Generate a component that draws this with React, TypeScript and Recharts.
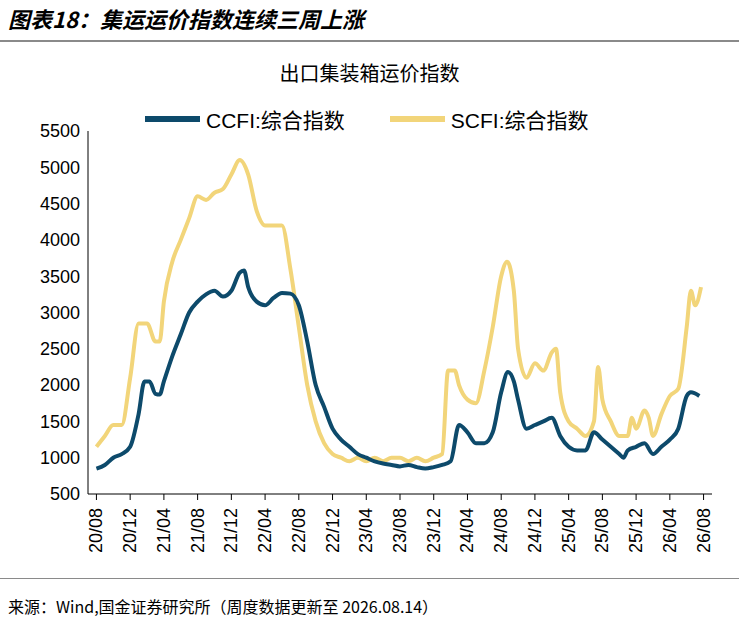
import React from "react";
import { LineChart, Line, XAxis, YAxis } from "recharts";

const ccfiX = [0,1,2,3,4,5,5.7,6.3,7,7.5,8,9,10,11,12,13,14,15,16,17,17.5,18,19,20,21,22,23,24,25,26,27,28,29,30,31,32,33,34,35,36,37,38,39,40,41,42,43,44,45,46,47,48,48.8,49.5,50,51,52,53,54,55,56,57,58,59,60,61,62,62.5,63,64,65,66,67,68,69,70,70.5,71.5];
const ccfiV = [850,900,1000,1050,1150,1600,2050,2050,1880,1870,2050,2400,2700,3000,3150,3250,3300,3220,3300,3550,3580,3350,3150,3100,3200,3270,3260,3100,2600,2000,1700,1400,1250,1150,1050,1000,950,920,900,880,900,870,850,870,900,950,1450,1350,1200,1200,1350,1900,2180,2050,1800,1400,1450,1500,1550,1300,1150,1100,1100,1350,1250,1150,1050,1000,1100,1150,1200,1050,1150,1250,1400,1850,1900,1850];
const scfiX = [0,1,2,3,4,5,6,7,7.5,8,9,10,11,12,13,14,15,16,17,18,19,20,21,22,23,24,25,26,27,28,29,30,31,32,33,34,35,36,37,38,39,40,41,41.7,42.5,43,44,45,46,47,48,48.7,49.5,50,51,52,53,54,54.5,55,56,57,58,59,59.5,60,61,62,63,63.5,64,65,65.5,66,67,68,69,70,70.5,71,71.7];
const scfiV = [1150,1300,1450,1450,2100,2850,2850,2600,2600,3150,3700,4000,4300,4600,4550,4650,4700,4900,5100,4900,4400,4200,4200,4200,3600,2800,2000,1500,1200,1050,1000,950,1000,950,1000,950,1000,1000,950,1000,950,1000,1050,2200,2200,2000,1800,1750,2200,2800,3500,3700,3300,2500,2100,2300,2200,2450,2500,1900,1500,1400,1300,1500,2250,1800,1500,1300,1300,1550,1400,1650,1550,1300,1600,1850,1950,2800,3300,3100,3350];
const xTickLabels = ["20/08","20/12","21/04","21/08","21/12","22/04","22/08","22/12","23/04","23/08","23/12","24/04","24/08","24/12","25/04","25/08","25/12","26/04","26/08"];
const yTicks = [500,1000,1500,2000,2500,3000,3500,4000,4500,5000,5500];

const CCFI_C = "#0d4a6b";
const SCFI_C = "#f2d57a";

const ccfiData = ccfiX.map((m, i) => ({ m, v: ccfiV[i] }));
const scfiData = scfiX.map((m, i) => ({ m, v: scfiV[i] }));
const xTicks = xTickLabels.map((_, i) => i * 4);

const XTick = (props: any) => {
  const { x, y, payload } = props;
  return (
    <text x={x} y={y + 6} transform={`rotate(-90 ${x} ${y + 6})`} textAnchor="end" dominantBaseline="central" fontSize={18} fill="#000" fontFamily="Arial, Liberation Sans">
      {xTickLabels[payload.value / 4]}
    </text>
  );
};

export default function App() {
  return (
    <div style={{ position: "absolute", left: 0, top: 0, width: 739, height: 621, background: "#fff", fontFamily: "Liberation Sans, Arial" }}>
      <div style={{ position: "absolute", left: 8, top: 2, fontSize: 22, fontWeight: "bold", fontStyle: "italic", fontFamily: "Noto Sans CJK SC" }}>图表18：集运运价指数连续三周上涨</div>
      <div style={{ position: "absolute", left: 0, top: 40, width: 739, height: 2, background: "#8a8a8a" }} />
      <div style={{ position: "absolute", left: 0, width: 739, top: 58, textAlign: "center", fontSize: 20, fontFamily: "Noto Sans CJK SC" }}>出口集装箱运价指数</div>
      <div style={{ position: "absolute", left: 145, top: 104, display: "flex", alignItems: "center", fontSize: 21 }}>
        <div style={{ width: 55, height: 6, background: CCFI_C, marginRight: 6 }} />
        <span>CCFI:<span style={{ fontFamily: "Noto Sans CJK SC" }}>综合指数</span></span>
        <div style={{ width: 55, height: 6, background: SCFI_C, marginLeft: 45, marginRight: 6 }} />
        <span>SCFI:<span style={{ fontFamily: "Noto Sans CJK SC" }}>综合指数</span></span>
      </div>
      <div style={{ position: "absolute", left: 0, top: 0 }}>
        <LineChart width={739} height={560} margin={{ top: 131, right: 27, bottom: 16, left: 18 }}>
          <XAxis type="number" dataKey="m" domain={[-1, 73]} ticks={xTicks} interval={0} tick={<XTick />} height={50} stroke="#000" tickLine={{ stroke: "#000" }} allowDuplicatedCategory={false} />
          <YAxis type="number" domain={[500, 5500]} ticks={yTicks} interval={0} width={70} stroke="#000" tick={{ fontSize: 18, fill: "#000" }} tickLine={false} />
          <Line data={scfiData} dataKey="v" stroke={SCFI_C} strokeWidth={4} dot={false} isAnimationActive={false} type="monotone" />
          <Line data={ccfiData} dataKey="v" stroke={CCFI_C} strokeWidth={4} dot={false} isAnimationActive={false} type="monotone" />
        </LineChart>
      </div>
      <div style={{ position: "absolute", left: 0, top: 578, width: 739, height: 1, background: "#8a8a8a" }} />
      <div style={{ position: "absolute", left: 8, top: 594, fontSize: 16, fontFamily: "Noto Sans CJK SC" }}>来源：Wind,国金证券研究所（周度数据更新至 2026.08.14）</div>
    </div>
  );
}
